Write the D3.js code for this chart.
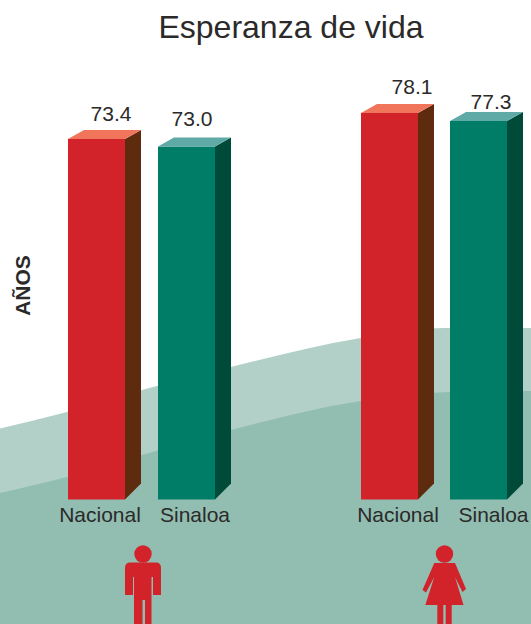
<!DOCTYPE html>
<html>
<head>
<meta charset="utf-8">
<script src="https://cdn.jsdelivr.net/npm/d3@7"></script>
<style>
  html, body { margin: 0; padding: 0; background: #fff; overflow: hidden; }
  svg { display: block; }
  text { font-family: "Liberation Sans", Arial, sans-serif; fill: #2b2a29; }
</style>
</head>
<body>
<svg width="531" height="624"></svg>
<script>
const title = "Esperanza de vida"
const yLabel = "AÑOS"
const barIds = ["h-nacional", "h-sinaloa", "m-nacional", "m-sinaloa"]
const categories = ["Nacional", "Sinaloa", "Nacional", "Sinaloa"]
const values = [73.4, 73.0, 78.1, 77.3]
const valueLabels = ["73.4", "73.0", "78.1", "77.3"]

const svg = d3.select("svg")

// the original bars are not quite to scale, so the scale is calibrated on each value
const y = d3.scaleLinear().domain([73.0, 73.4, 77.3, 78.1]).range([146.5, 139, 121, 113])
const x = d3.scaleOrdinal().domain(barIds).range([68, 158, 361, 450])
const barWidth = 57
const depthX = 16
const depthTop = 9
const depthBottom = 16
const baseY = 499.5

const colors = {
    Nacional: { front: "#d2232a", side: "#5e2b0f", top: "#f0755a" },
    Sinaloa: { front: "#007d67", side: "#004a39", top: "#5fa9a6" }
}

// background hills
const hillLine = d3.line().curve(d3.curveMonotoneX)
const upperHill = [[0, 428.5], [67, 412], [142, 390], [231, 367], [361, 338], [445, 328], [531, 328]]
const lowerHill = [[0, 493], [67, 477], [142, 455], [231, 430], [361, 401], [450, 392], [531, 391]]

function hill(points, fill){
    svg.append("path")
        .attr("d", hillLine(points) + "L531,624L0,624Z")
        .style("fill", fill)
}
hill(upperHill, "#b2d0c8")
hill(lowerHill, "#92bdb1")

const bars = svg.selectAll("g.bar")
    .data(barIds.map((id, i) => ({ id, category: categories[i], value: values[i], label: valueLabels[i] })))
    .enter()
    .append("g")
    .attr("class", "bar")

bars.append("rect")
    .attr("x", d => x(d.id))
    .attr("y", d => y(d.value))
    .attr("width", barWidth)
    .attr("height", d => baseY - y(d.value))
    .style("fill", d => colors[d.category].front)

bars.append("path")
    .attr("d", d => {
        const r = x(d.id) + barWidth
        const t = y(d.value)
        return `M${r},${t}L${r + depthX},${t - depthTop}L${r + depthX},${baseY - depthBottom}L${r},${baseY}Z`
    })
    .style("fill", d => colors[d.category].side)

bars.append("path")
    .attr("d", d => {
        const l = x(d.id)
        const t = y(d.value)
        return `M${l},${t}L${l + depthX},${t - depthTop}L${l + barWidth + depthX},${t - depthTop}L${l + barWidth},${t}Z`
    })
    .style("fill", d => colors[d.category].top)

// value labels sit a bit differently over each bar
const valueOffsets = [[43, -18.5], [34, -20.5], [51, -19], [41, -12]]
bars.append("text")
    .attr("x", (d, i) => x(d.id) + valueOffsets[i][0])
    .attr("y", (d, i) => y(d.value) + valueOffsets[i][1])
    .attr("text-anchor", "middle")
    .style("font-size", "21px")
    .text(d => d.label)

const categoryCenters = [100, 195, 398, 493.5]
bars.append("text")
    .attr("x", (d, i) => categoryCenters[i])
    .attr("y", 522)
    .attr("text-anchor", "middle")
    .style("font-size", "21px")
    .text(d => d.category)

svg.append("text")
    .attr("x", 291)
    .attr("y", 38)
    .attr("text-anchor", "middle")
    .style("font-size", "32px")
    .text(title)

svg.append("text")
    .attr("transform", "translate(30, 285.5) rotate(-90)")
    .attr("text-anchor", "middle")
    .style("font-size", "21px")
    .style("font-weight", "bold")
    .text(yLabel)

// man and woman icons
const iconRed = "#d2232a"

svg.append("circle").attr("cx", 143).attr("cy", 554).attr("r", 8.7).style("fill", iconRed)
svg.append("path")
    .attr("d", "M130,562.5H156Q161,562.5 161,568V595H153V577H151.5V624H145V600H142.5V624H134V577H133V595H125V568Q125,562.5 130,562.5Z")
    .style("fill", iconRed)

svg.append("circle").attr("cx", 444.5).attr("cy", 554).attr("r", 8.7).style("fill", iconRed)
svg.append("path")
    .attr("d", "M434.3,563H455L466,589L462.5,592L455,577L463.5,605H451.7V624H445.7V605H443.3V624H437.3V605H425.3L434.3,577L426,592.5L422.5,590Z")
    .style("fill", iconRed)
</script>
</body>
</html>
